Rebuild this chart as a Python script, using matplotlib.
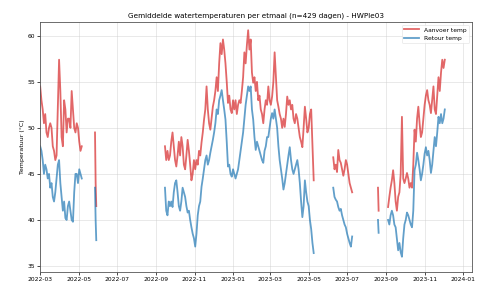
import numpy as np
import pandas as pd
import matplotlib
matplotlib.use("Agg")
import matplotlib.pyplot as plt
import matplotlib.dates as mdates

# ---- data (daily means, sampled every 2 days, segments separated by gaps) ----
seg_starts = ["2022-03-01", "2022-05-27", "2022-09-15", "2023-06-09", "2023-08-19", "2023-09-04"]

aanvoer_1 = [54.5, 53, 52, 50.5, 51.5, 49.5, 49, 50, 50.5, 50, 48, 47.5, 46.5, 47, 52, 57.4, 54,
             49, 48, 53, 52, 49.5, 51, 51, 50, 54, 52, 50, 49.5, 50.5, 50, 48.5, 47.5, 48]
retour_1 = [48, 47.5, 46.5, 45, 46, 45.5, 44.5, 45, 43.5, 44, 42.5, 42, 43, 44.5, 46, 46.5, 44,
            42.5, 41, 42, 40.2, 40, 41.5, 42, 41, 40, 39.8, 43, 45, 45, 44, 45.5, 45, 44.5]

aanvoer_2 = [49.5, 44, 41.5]
retour_2 = [43.5, 40, 37.8]

aanvoer_3 = [48, 46.5, 47.5, 46.5, 47, 48.5, 49.5, 48, 46.5, 45.8, 47, 48.5, 47, 49, 48, 46,
             45.5, 47, 48.7, 47.5, 46, 44.3, 45, 46.5, 45.5, 46.5, 46, 47.5, 47, 48.4, 49.5, 50.9,
             52, 54.5, 52, 50.5, 49.8, 51, 52.3, 53, 54, 55.5, 54, 57, 59.2, 58, 59.6, 58.5,
             57, 55, 52.7, 53.5, 52, 51.6, 53, 52, 53, 51.5, 52.5, 53, 52.7, 54, 55.5, 58.2,
             57, 59, 60.6, 58.5, 59.6, 56, 54.9, 55.5, 54, 55, 53, 53.5, 52, 51.5, 50.5, 52,
             53, 52.5, 54.5, 53, 52.5, 53.4, 55, 58.2, 55.5, 53, 52.3, 51.5, 51, 50, 51, 50.1,
             51.5, 53.4, 52.5, 53, 52, 52.5, 51, 50.5, 51.5, 51, 50, 49, 48.5, 47.9, 50, 52.3,
             51, 49.5, 50, 51.5, 52, 48, 44.3]
retour_3 = [43.5, 41, 40.5, 42, 41.5, 42, 41.4, 43, 44, 44.3, 43, 41.5, 41, 42, 43.5, 43,
            42.5, 41.5, 40.8, 41, 40, 39.2, 38.5, 38, 37.1, 38.5, 40.5, 41.5, 42, 43.6, 44.5, 45.5,
            46.5, 47, 46, 46.5, 47.3, 48, 48.7, 49.5, 50.5, 52, 51.5, 53, 53.5, 54.1, 53, 52,
            50.9, 48.5, 45.8, 46, 45, 44.7, 45.5, 45, 44.5, 45, 45.5, 46.5, 47.5, 48.5, 49.5, 51,
            52.5, 53.5, 54.5, 54, 54.5, 52, 50.9, 49, 47.6, 48.5, 48, 47.5, 47, 46.5, 46.2, 47.5,
            48, 49, 49, 50, 51, 51.6, 51, 52, 51, 50, 48, 46.5, 45.5, 44.5, 43.3, 44,
            45, 46, 47, 47.9, 46.5, 45.5, 45, 45.5, 46, 46.5, 45.5, 44, 42, 40.3, 41.5, 44.3,
            43, 42, 41.5, 40, 39, 37.5, 36.4]

aanvoer_4 = [46.8, 45.5, 46, 45.2, 47.6, 46.5, 46.2, 45.5, 44.8, 45.5, 46.5, 46, 45, 44, 43.5, 43]
retour_4 = [43.5, 42.5, 42.2, 42, 41.4, 41, 41.2, 40.5, 40, 39.5, 39.2, 38.5, 38, 37.5, 37.1, 38.2]

aanvoer_5 = [43.5, 41]
retour_5 = [40, 38.6]

aanvoer_6 = [41.4, 42.5, 43.5, 44.3, 45.4, 44, 42, 41, 42.5, 43, 45, 51.2, 44.5, 44, 44.5, 45.1,
             44.5, 43.5, 44, 43.5, 46, 49.8, 48.5, 51, 52.3, 50.5, 49, 49.5, 51, 52.5, 53.5, 54.1,
             53, 52.5, 51.6, 53, 54.5, 52, 51.5, 53.5, 55.5, 54, 56, 57.4, 56.5, 57.4]
retour_6 = [40, 39.5, 40.5, 41, 40.5, 39.5, 39.2, 38, 36.7, 37.5, 36.5, 36, 38, 39.5, 40, 40.8,
            40.5, 40, 39.5, 39.2, 41, 45.4, 46, 47.3, 46.5, 45.5, 44.3, 45, 46, 47.2, 47.9, 47,
            47.5, 46.5, 45.1, 46, 47.5, 49, 48, 49.5, 51.2, 50.5, 51.5, 50.5, 51, 52]

aanvoer_segs = [aanvoer_1, aanvoer_2, aanvoer_3, aanvoer_4, aanvoer_5, aanvoer_6]
retour_segs = [retour_1, retour_2, retour_3, retour_4, retour_5, retour_6]

title = "Gemiddelde watertemperaturen per etmaal (n=429 dagen) - HWPle03"
label_aanvoer = "Aanvoer temp"
label_retour = "Retour temp"
ylabel = "Temperatuur (°C)"
yticks = [35, 40, 45, 50, 55, 60]

# ---- assemble series with NaN breaks between segments ----
dates, sup, ret = [], [], []
for start, a, r in zip(seg_starts, aanvoer_segs, retour_segs):
    freq = "1D" if len(a) <= 3 else "2D"
    d = pd.date_range(start, periods=len(a), freq=freq)
    dates.extend(list(d))
    sup.extend(a)
    ret.extend(r)
    dates.append(d[-1] + pd.Timedelta(days=1))
    sup.append(np.nan)
    ret.append(np.nan)

df = pd.DataFrame({"date": dates, "aanvoer": sup, "retour": ret})

fig = plt.figure(figsize=(4.84, 2.89), dpi=100)
ax = fig.add_axes([0.083, 0.059, 0.892, 0.865])

ax.plot(df["date"], df["aanvoer"], color="#d62728", lw=1.3, alpha=0.7, label=label_aanvoer)
ax.plot(df["date"], df["retour"], color="#1f77b4", lw=1.3, alpha=0.7, label=label_retour)

ax.set_xlim(pd.Timestamp("2022-03-01"), pd.Timestamp("2024-01-15"))
ax.set_ylim(34.35, 61.5)
ax.set_yticks(yticks)
ax.xaxis.set_major_locator(mdates.MonthLocator(bymonth=[1, 3, 5, 7, 9, 11]))
ax.xaxis.set_major_formatter(mdates.DateFormatter("%Y-%m"))
ax.tick_params(labelsize=4.3, length=2, width=0.5, pad=1.5)
ax.grid(True, color="#cccccc", lw=0.5, alpha=0.6)
for s in ax.spines.values():
    s.set_linewidth(0.6)
    s.set_color("#555555")

ax.set_title(title, fontsize=5.2, pad=3)
ax.set_ylabel(ylabel, fontsize=4.5, labelpad=2)
leg = ax.legend(loc="upper right", fontsize=4.3, frameon=True, handlelength=2.5,
                facecolor="white", edgecolor="#dddddd", framealpha=0.9)
leg.get_frame().set_linewidth(0.4)

fig.savefig("out.png", dpi=100)
